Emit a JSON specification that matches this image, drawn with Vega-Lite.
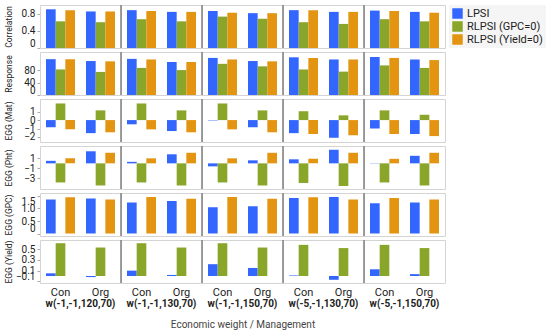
{
  "$schema": "https://vega.github.io/schema/vega-lite/v6.json",
  "padding": {"left": 4, "top": 3, "right": 2, "bottom": 2},
  "background": "white",
  "data": {"values": [
    {"m":"Correlation","w":"w(-1,-1,120,70)","g":"Con","s":"LPSI","v":0.90},
    {"m":"Correlation","w":"w(-1,-1,120,70)","g":"Con","s":"RLPSI (GPC=0)","v":0.62},
    {"m":"Correlation","w":"w(-1,-1,120,70)","g":"Con","s":"RLPSI (Yield=0)","v":0.88},
    {"m":"Correlation","w":"w(-1,-1,120,70)","g":"Org","s":"LPSI","v":0.85},
    {"m":"Correlation","w":"w(-1,-1,120,70)","g":"Org","s":"RLPSI (GPC=0)","v":0.60},
    {"m":"Correlation","w":"w(-1,-1,120,70)","g":"Org","s":"RLPSI (Yield=0)","v":0.85},
    {"m":"Correlation","w":"w(-1,-1,130,70)","g":"Con","s":"LPSI","v":0.88},
    {"m":"Correlation","w":"w(-1,-1,130,70)","g":"Con","s":"RLPSI (GPC=0)","v":0.67},
    {"m":"Correlation","w":"w(-1,-1,130,70)","g":"Con","s":"RLPSI (Yield=0)","v":0.86},
    {"m":"Correlation","w":"w(-1,-1,130,70)","g":"Org","s":"LPSI","v":0.84},
    {"m":"Correlation","w":"w(-1,-1,130,70)","g":"Org","s":"RLPSI (GPC=0)","v":0.62},
    {"m":"Correlation","w":"w(-1,-1,130,70)","g":"Org","s":"RLPSI (Yield=0)","v":0.84},
    {"m":"Correlation","w":"w(-1,-1,150,70)","g":"Con","s":"LPSI","v":0.86},
    {"m":"Correlation","w":"w(-1,-1,150,70)","g":"Con","s":"RLPSI (GPC=0)","v":0.73},
    {"m":"Correlation","w":"w(-1,-1,150,70)","g":"Con","s":"RLPSI (Yield=0)","v":0.82},
    {"m":"Correlation","w":"w(-1,-1,150,70)","g":"Org","s":"LPSI","v":0.81},
    {"m":"Correlation","w":"w(-1,-1,150,70)","g":"Org","s":"RLPSI (GPC=0)","v":0.68},
    {"m":"Correlation","w":"w(-1,-1,150,70)","g":"Org","s":"RLPSI (Yield=0)","v":0.81},
    {"m":"Correlation","w":"w(-5,-1,130,70)","g":"Con","s":"LPSI","v":0.88},
    {"m":"Correlation","w":"w(-5,-1,130,70)","g":"Con","s":"RLPSI (GPC=0)","v":0.60},
    {"m":"Correlation","w":"w(-5,-1,130,70)","g":"Con","s":"RLPSI (Yield=0)","v":0.88},
    {"m":"Correlation","w":"w(-5,-1,130,70)","g":"Org","s":"LPSI","v":0.84},
    {"m":"Correlation","w":"w(-5,-1,130,70)","g":"Org","s":"RLPSI (GPC=0)","v":0.56},
    {"m":"Correlation","w":"w(-5,-1,130,70)","g":"Org","s":"RLPSI (Yield=0)","v":0.84},
    {"m":"Correlation","w":"w(-5,-1,150,70)","g":"Con","s":"LPSI","v":0.87},
    {"m":"Correlation","w":"w(-5,-1,150,70)","g":"Con","s":"RLPSI (GPC=0)","v":0.67},
    {"m":"Correlation","w":"w(-5,-1,150,70)","g":"Con","s":"RLPSI (Yield=0)","v":0.86},
    {"m":"Correlation","w":"w(-5,-1,150,70)","g":"Org","s":"LPSI","v":0.84},
    {"m":"Correlation","w":"w(-5,-1,150,70)","g":"Org","s":"RLPSI (GPC=0)","v":0.62},
    {"m":"Correlation","w":"w(-5,-1,150,70)","g":"Org","s":"RLPSI (Yield=0)","v":0.82},

    {"m":"Response","w":"w(-1,-1,120,70)","g":"Con","s":"LPSI","v":115},
    {"m":"Response","w":"w(-1,-1,120,70)","g":"Con","s":"RLPSI (GPC=0)","v":82},
    {"m":"Response","w":"w(-1,-1,120,70)","g":"Con","s":"RLPSI (Yield=0)","v":115},
    {"m":"Response","w":"w(-1,-1,120,70)","g":"Org","s":"LPSI","v":109},
    {"m":"Response","w":"w(-1,-1,120,70)","g":"Org","s":"RLPSI (GPC=0)","v":74},
    {"m":"Response","w":"w(-1,-1,120,70)","g":"Org","s":"RLPSI (Yield=0)","v":108},
    {"m":"Response","w":"w(-1,-1,130,70)","g":"Con","s":"LPSI","v":116},
    {"m":"Response","w":"w(-1,-1,130,70)","g":"Con","s":"RLPSI (GPC=0)","v":87},
    {"m":"Response","w":"w(-1,-1,130,70)","g":"Con","s":"RLPSI (Yield=0)","v":114},
    {"m":"Response","w":"w(-1,-1,130,70)","g":"Org","s":"LPSI","v":106},
    {"m":"Response","w":"w(-1,-1,130,70)","g":"Org","s":"RLPSI (GPC=0)","v":80},
    {"m":"Response","w":"w(-1,-1,130,70)","g":"Org","s":"RLPSI (Yield=0)","v":106},
    {"m":"Response","w":"w(-1,-1,150,70)","g":"Con","s":"LPSI","v":119},
    {"m":"Response","w":"w(-1,-1,150,70)","g":"Con","s":"RLPSI (GPC=0)","v":100},
    {"m":"Response","w":"w(-1,-1,150,70)","g":"Con","s":"RLPSI (Yield=0)","v":114},
    {"m":"Response","w":"w(-1,-1,150,70)","g":"Org","s":"LPSI","v":109},
    {"m":"Response","w":"w(-1,-1,150,70)","g":"Org","s":"RLPSI (GPC=0)","v":92},
    {"m":"Response","w":"w(-1,-1,150,70)","g":"Org","s":"RLPSI (Yield=0)","v":108},
    {"m":"Response","w":"w(-5,-1,130,70)","g":"Con","s":"LPSI","v":121},
    {"m":"Response","w":"w(-5,-1,130,70)","g":"Con","s":"RLPSI (GPC=0)","v":82},
    {"m":"Response","w":"w(-5,-1,130,70)","g":"Con","s":"RLPSI (Yield=0)","v":119},
    {"m":"Response","w":"w(-5,-1,130,70)","g":"Org","s":"LPSI","v":114},
    {"m":"Response","w":"w(-5,-1,130,70)","g":"Org","s":"RLPSI (GPC=0)","v":75},
    {"m":"Response","w":"w(-5,-1,130,70)","g":"Org","s":"RLPSI (Yield=0)","v":114},
    {"m":"Response","w":"w(-5,-1,150,70)","g":"Con","s":"LPSI","v":122},
    {"m":"Response","w":"w(-5,-1,150,70)","g":"Con","s":"RLPSI (GPC=0)","v":95},
    {"m":"Response","w":"w(-5,-1,150,70)","g":"Con","s":"RLPSI (Yield=0)","v":119},
    {"m":"Response","w":"w(-5,-1,150,70)","g":"Org","s":"LPSI","v":114},
    {"m":"Response","w":"w(-5,-1,150,70)","g":"Org","s":"RLPSI (GPC=0)","v":87},
    {"m":"Response","w":"w(-5,-1,150,70)","g":"Org","s":"RLPSI (Yield=0)","v":112},

    {"m":"EGG (Mat)","w":"w(-1,-1,120,70)","g":"Con","s":"LPSI","v":-0.85},
    {"m":"EGG (Mat)","w":"w(-1,-1,120,70)","g":"Con","s":"RLPSI (GPC=0)","v":1.97},
    {"m":"EGG (Mat)","w":"w(-1,-1,120,70)","g":"Con","s":"RLPSI (Yield=0)","v":-1.1},
    {"m":"EGG (Mat)","w":"w(-1,-1,120,70)","g":"Org","s":"LPSI","v":-1.55},
    {"m":"EGG (Mat)","w":"w(-1,-1,120,70)","g":"Org","s":"RLPSI (GPC=0)","v":1.15},
    {"m":"EGG (Mat)","w":"w(-1,-1,120,70)","g":"Org","s":"RLPSI (Yield=0)","v":-1.45},
    {"m":"EGG (Mat)","w":"w(-1,-1,130,70)","g":"Con","s":"LPSI","v":-0.5},
    {"m":"EGG (Mat)","w":"w(-1,-1,130,70)","g":"Con","s":"RLPSI (GPC=0)","v":1.97},
    {"m":"EGG (Mat)","w":"w(-1,-1,130,70)","g":"Con","s":"RLPSI (Yield=0)","v":-1.1},
    {"m":"EGG (Mat)","w":"w(-1,-1,130,70)","g":"Org","s":"LPSI","v":-1.3},
    {"m":"EGG (Mat)","w":"w(-1,-1,130,70)","g":"Org","s":"RLPSI (GPC=0)","v":1.15},
    {"m":"EGG (Mat)","w":"w(-1,-1,130,70)","g":"Org","s":"RLPSI (Yield=0)","v":-1.45},
    {"m":"EGG (Mat)","w":"w(-1,-1,150,70)","g":"Con","s":"LPSI","v":-0.05},
    {"m":"EGG (Mat)","w":"w(-1,-1,150,70)","g":"Con","s":"RLPSI (GPC=0)","v":1.97},
    {"m":"EGG (Mat)","w":"w(-1,-1,150,70)","g":"Con","s":"RLPSI (Yield=0)","v":-1.1},
    {"m":"EGG (Mat)","w":"w(-1,-1,150,70)","g":"Org","s":"LPSI","v":-0.85},
    {"m":"EGG (Mat)","w":"w(-1,-1,150,70)","g":"Org","s":"RLPSI (GPC=0)","v":1.15},
    {"m":"EGG (Mat)","w":"w(-1,-1,150,70)","g":"Org","s":"RLPSI (Yield=0)","v":-1.45},
    {"m":"EGG (Mat)","w":"w(-5,-1,130,70)","g":"Con","s":"LPSI","v":-1.55},
    {"m":"EGG (Mat)","w":"w(-5,-1,130,70)","g":"Con","s":"RLPSI (GPC=0)","v":1.05},
    {"m":"EGG (Mat)","w":"w(-5,-1,130,70)","g":"Con","s":"RLPSI (Yield=0)","v":-1.65},
    {"m":"EGG (Mat)","w":"w(-5,-1,130,70)","g":"Org","s":"LPSI","v":-2.1},
    {"m":"EGG (Mat)","w":"w(-5,-1,130,70)","g":"Org","s":"RLPSI (GPC=0)","v":0.56},
    {"m":"EGG (Mat)","w":"w(-5,-1,130,70)","g":"Org","s":"RLPSI (Yield=0)","v":-1.8},
    {"m":"EGG (Mat)","w":"w(-5,-1,150,70)","g":"Con","s":"LPSI","v":-1.0},
    {"m":"EGG (Mat)","w":"w(-5,-1,150,70)","g":"Con","s":"RLPSI (GPC=0)","v":1.15},
    {"m":"EGG (Mat)","w":"w(-5,-1,150,70)","g":"Con","s":"RLPSI (Yield=0)","v":-1.65},
    {"m":"EGG (Mat)","w":"w(-5,-1,150,70)","g":"Org","s":"LPSI","v":-1.65},
    {"m":"EGG (Mat)","w":"w(-5,-1,150,70)","g":"Org","s":"RLPSI (GPC=0)","v":0.63},
    {"m":"EGG (Mat)","w":"w(-5,-1,150,70)","g":"Org","s":"RLPSI (Yield=0)","v":-1.9},

    {"m":"EGG (Pht)","w":"w(-1,-1,120,70)","g":"Con","s":"LPSI","v":0.5},
    {"m":"EGG (Pht)","w":"w(-1,-1,120,70)","g":"Con","s":"RLPSI (GPC=0)","v":-3.8},
    {"m":"EGG (Pht)","w":"w(-1,-1,120,70)","g":"Con","s":"RLPSI (Yield=0)","v":1.0},
    {"m":"EGG (Pht)","w":"w(-1,-1,120,70)","g":"Org","s":"LPSI","v":2.4},
    {"m":"EGG (Pht)","w":"w(-1,-1,120,70)","g":"Org","s":"RLPSI (GPC=0)","v":-4.4},
    {"m":"EGG (Pht)","w":"w(-1,-1,120,70)","g":"Org","s":"RLPSI (Yield=0)","v":2.1},
    {"m":"EGG (Pht)","w":"w(-1,-1,130,70)","g":"Con","s":"LPSI","v":0.3},
    {"m":"EGG (Pht)","w":"w(-1,-1,130,70)","g":"Con","s":"RLPSI (GPC=0)","v":-3.8},
    {"m":"EGG (Pht)","w":"w(-1,-1,130,70)","g":"Con","s":"RLPSI (Yield=0)","v":1.0},
    {"m":"EGG (Pht)","w":"w(-1,-1,130,70)","g":"Org","s":"LPSI","v":1.8},
    {"m":"EGG (Pht)","w":"w(-1,-1,130,70)","g":"Org","s":"RLPSI (GPC=0)","v":-4.4},
    {"m":"EGG (Pht)","w":"w(-1,-1,130,70)","g":"Org","s":"RLPSI (Yield=0)","v":2.1},
    {"m":"EGG (Pht)","w":"w(-1,-1,150,70)","g":"Con","s":"LPSI","v":-0.6},
    {"m":"EGG (Pht)","w":"w(-1,-1,150,70)","g":"Con","s":"RLPSI (GPC=0)","v":-3.8},
    {"m":"EGG (Pht)","w":"w(-1,-1,150,70)","g":"Con","s":"RLPSI (Yield=0)","v":1.0},
    {"m":"EGG (Pht)","w":"w(-1,-1,150,70)","g":"Org","s":"LPSI","v":0.6},
    {"m":"EGG (Pht)","w":"w(-1,-1,150,70)","g":"Org","s":"RLPSI (GPC=0)","v":-4.4},
    {"m":"EGG (Pht)","w":"w(-1,-1,150,70)","g":"Org","s":"RLPSI (Yield=0)","v":2.1},
    {"m":"EGG (Pht)","w":"w(-5,-1,130,70)","g":"Con","s":"LPSI","v":0.8},
    {"m":"EGG (Pht)","w":"w(-5,-1,130,70)","g":"Con","s":"RLPSI (GPC=0)","v":-3.9},
    {"m":"EGG (Pht)","w":"w(-5,-1,130,70)","g":"Con","s":"RLPSI (Yield=0)","v":0.9},
    {"m":"EGG (Pht)","w":"w(-5,-1,130,70)","g":"Org","s":"LPSI","v":2.7},
    {"m":"EGG (Pht)","w":"w(-5,-1,130,70)","g":"Org","s":"RLPSI (GPC=0)","v":-4.5},
    {"m":"EGG (Pht)","w":"w(-5,-1,130,70)","g":"Org","s":"RLPSI (Yield=0)","v":2.1},
    {"m":"EGG (Pht)","w":"w(-5,-1,150,70)","g":"Con","s":"LPSI","v":0.05},
    {"m":"EGG (Pht)","w":"w(-5,-1,150,70)","g":"Con","s":"RLPSI (GPC=0)","v":-3.8},
    {"m":"EGG (Pht)","w":"w(-5,-1,150,70)","g":"Con","s":"RLPSI (Yield=0)","v":0.9},
    {"m":"EGG (Pht)","w":"w(-5,-1,150,70)","g":"Org","s":"LPSI","v":1.5},
    {"m":"EGG (Pht)","w":"w(-5,-1,150,70)","g":"Org","s":"RLPSI (GPC=0)","v":-4.4},
    {"m":"EGG (Pht)","w":"w(-5,-1,150,70)","g":"Org","s":"RLPSI (Yield=0)","v":2.1},

    {"m":"EGG (GPC)","w":"w(-1,-1,120,70)","g":"Con","s":"LPSI","v":1.36},
    {"m":"EGG (GPC)","w":"w(-1,-1,120,70)","g":"Con","s":"RLPSI (GPC=0)","v":0},
    {"m":"EGG (GPC)","w":"w(-1,-1,120,70)","g":"Con","s":"RLPSI (Yield=0)","v":1.45},
    {"m":"EGG (GPC)","w":"w(-1,-1,120,70)","g":"Org","s":"LPSI","v":1.40},
    {"m":"EGG (GPC)","w":"w(-1,-1,120,70)","g":"Org","s":"RLPSI (GPC=0)","v":0},
    {"m":"EGG (GPC)","w":"w(-1,-1,120,70)","g":"Org","s":"RLPSI (Yield=0)","v":1.36},
    {"m":"EGG (GPC)","w":"w(-1,-1,130,70)","g":"Con","s":"LPSI","v":1.24},
    {"m":"EGG (GPC)","w":"w(-1,-1,130,70)","g":"Con","s":"RLPSI (GPC=0)","v":0},
    {"m":"EGG (GPC)","w":"w(-1,-1,130,70)","g":"Con","s":"RLPSI (Yield=0)","v":1.46},
    {"m":"EGG (GPC)","w":"w(-1,-1,130,70)","g":"Org","s":"LPSI","v":1.30},
    {"m":"EGG (GPC)","w":"w(-1,-1,130,70)","g":"Org","s":"RLPSI (GPC=0)","v":0},
    {"m":"EGG (GPC)","w":"w(-1,-1,130,70)","g":"Org","s":"RLPSI (Yield=0)","v":1.39},
    {"m":"EGG (GPC)","w":"w(-1,-1,150,70)","g":"Con","s":"LPSI","v":1.05},
    {"m":"EGG (GPC)","w":"w(-1,-1,150,70)","g":"Con","s":"RLPSI (GPC=0)","v":0},
    {"m":"EGG (GPC)","w":"w(-1,-1,150,70)","g":"Con","s":"RLPSI (Yield=0)","v":1.46},
    {"m":"EGG (GPC)","w":"w(-1,-1,150,70)","g":"Org","s":"LPSI","v":1.09},
    {"m":"EGG (GPC)","w":"w(-1,-1,150,70)","g":"Org","s":"RLPSI (GPC=0)","v":0},
    {"m":"EGG (GPC)","w":"w(-1,-1,150,70)","g":"Org","s":"RLPSI (Yield=0)","v":1.39},
    {"m":"EGG (GPC)","w":"w(-5,-1,130,70)","g":"Con","s":"LPSI","v":1.42},
    {"m":"EGG (GPC)","w":"w(-5,-1,130,70)","g":"Con","s":"RLPSI (GPC=0)","v":0},
    {"m":"EGG (GPC)","w":"w(-5,-1,130,70)","g":"Con","s":"RLPSI (Yield=0)","v":1.45},
    {"m":"EGG (GPC)","w":"w(-5,-1,130,70)","g":"Org","s":"LPSI","v":1.46},
    {"m":"EGG (GPC)","w":"w(-5,-1,130,70)","g":"Org","s":"RLPSI (GPC=0)","v":0},
    {"m":"EGG (GPC)","w":"w(-5,-1,130,70)","g":"Org","s":"RLPSI (Yield=0)","v":1.36},
    {"m":"EGG (GPC)","w":"w(-5,-1,150,70)","g":"Con","s":"LPSI","v":1.21},
    {"m":"EGG (GPC)","w":"w(-5,-1,150,70)","g":"Con","s":"RLPSI (GPC=0)","v":0},
    {"m":"EGG (GPC)","w":"w(-5,-1,150,70)","g":"Con","s":"RLPSI (Yield=0)","v":1.42},
    {"m":"EGG (GPC)","w":"w(-5,-1,150,70)","g":"Org","s":"LPSI","v":1.24},
    {"m":"EGG (GPC)","w":"w(-5,-1,150,70)","g":"Org","s":"RLPSI (GPC=0)","v":0},
    {"m":"EGG (GPC)","w":"w(-5,-1,150,70)","g":"Org","s":"RLPSI (Yield=0)","v":1.36},

    {"m":"EGG (Yield)","w":"w(-1,-1,120,70)","g":"Con","s":"LPSI","v":0.05},
    {"m":"EGG (Yield)","w":"w(-1,-1,120,70)","g":"Con","s":"RLPSI (GPC=0)","v":0.61},
    {"m":"EGG (Yield)","w":"w(-1,-1,120,70)","g":"Con","s":"RLPSI (Yield=0)","v":0},
    {"m":"EGG (Yield)","w":"w(-1,-1,120,70)","g":"Org","s":"LPSI","v":-0.02},
    {"m":"EGG (Yield)","w":"w(-1,-1,120,70)","g":"Org","s":"RLPSI (GPC=0)","v":0.53},
    {"m":"EGG (Yield)","w":"w(-1,-1,120,70)","g":"Org","s":"RLPSI (Yield=0)","v":0},
    {"m":"EGG (Yield)","w":"w(-1,-1,130,70)","g":"Con","s":"LPSI","v":0.10},
    {"m":"EGG (Yield)","w":"w(-1,-1,130,70)","g":"Con","s":"RLPSI (GPC=0)","v":0.61},
    {"m":"EGG (Yield)","w":"w(-1,-1,130,70)","g":"Con","s":"RLPSI (Yield=0)","v":0},
    {"m":"EGG (Yield)","w":"w(-1,-1,130,70)","g":"Org","s":"LPSI","v":0.02},
    {"m":"EGG (Yield)","w":"w(-1,-1,130,70)","g":"Org","s":"RLPSI (GPC=0)","v":0.53},
    {"m":"EGG (Yield)","w":"w(-1,-1,130,70)","g":"Org","s":"RLPSI (Yield=0)","v":0},
    {"m":"EGG (Yield)","w":"w(-1,-1,150,70)","g":"Con","s":"LPSI","v":0.22},
    {"m":"EGG (Yield)","w":"w(-1,-1,150,70)","g":"Con","s":"RLPSI (GPC=0)","v":0.61},
    {"m":"EGG (Yield)","w":"w(-1,-1,150,70)","g":"Con","s":"RLPSI (Yield=0)","v":0},
    {"m":"EGG (Yield)","w":"w(-1,-1,150,70)","g":"Org","s":"LPSI","v":0.15},
    {"m":"EGG (Yield)","w":"w(-1,-1,150,70)","g":"Org","s":"RLPSI (GPC=0)","v":0.53},
    {"m":"EGG (Yield)","w":"w(-1,-1,150,70)","g":"Org","s":"RLPSI (Yield=0)","v":0},
    {"m":"EGG (Yield)","w":"w(-5,-1,130,70)","g":"Con","s":"LPSI","v":0.01},
    {"m":"EGG (Yield)","w":"w(-5,-1,130,70)","g":"Con","s":"RLPSI (GPC=0)","v":0.58},
    {"m":"EGG (Yield)","w":"w(-5,-1,130,70)","g":"Con","s":"RLPSI (Yield=0)","v":0},
    {"m":"EGG (Yield)","w":"w(-5,-1,130,70)","g":"Org","s":"LPSI","v":-0.07},
    {"m":"EGG (Yield)","w":"w(-5,-1,130,70)","g":"Org","s":"RLPSI (GPC=0)","v":0.52},
    {"m":"EGG (Yield)","w":"w(-5,-1,130,70)","g":"Org","s":"RLPSI (Yield=0)","v":0},
    {"m":"EGG (Yield)","w":"w(-5,-1,150,70)","g":"Con","s":"LPSI","v":0.125},
    {"m":"EGG (Yield)","w":"w(-5,-1,150,70)","g":"Con","s":"RLPSI (GPC=0)","v":0.58},
    {"m":"EGG (Yield)","w":"w(-5,-1,150,70)","g":"Con","s":"RLPSI (Yield=0)","v":0},
    {"m":"EGG (Yield)","w":"w(-5,-1,150,70)","g":"Org","s":"LPSI","v":0.035},
    {"m":"EGG (Yield)","w":"w(-5,-1,150,70)","g":"Org","s":"RLPSI (GPC=0)","v":0.52},
    {"m":"EGG (Yield)","w":"w(-5,-1,150,70)","g":"Org","s":"RLPSI (Yield=0)","v":0}
  ]},
  "spacing": 0,
  "resolve": {"scale": {"y": "independent", "x": "independent", "color": "shared"}},
  "vconcat": [
    {
      "transform": [{"filter": "datum.m === 'Correlation'"}],
      "facet": {"column": {"field": "w", "type": "nominal", "sort": ["w(-1,-1,120,70)","w(-1,-1,130,70)","w(-1,-1,150,70)","w(-5,-1,130,70)","w(-5,-1,150,70)"], "header": null}},
      "spacing": 0,
      "bounds": "flush",
      "spec": {
        "width": 81, "height": 43,
        "layer": [
          {"mark": {"type": "bar"},
           "encoding": {
             "x": {"field": "g", "type": "nominal", "scale": {"paddingInner": 0.275, "paddingOuter": 0.15}, "axis": null},
             "xOffset": {"field": "s", "type": "nominal", "sort": ["LPSI","RLPSI (GPC=0)","RLPSI (Yield=0)"], "scale": {"paddingInner": 0, "paddingOuter": 0}},
             "y": {"field": "v", "type": "quantitative", "scale": {"domain": [0, 1.0], "nice": false, "zero": false}, "axis": {"title": "Correlation", "values": [0, 0.4, 0.8], "labelExpr": "datum.value === 0 ? '0' : format(datum.value, '.1f')"}},
             "color": {"field": "s", "type": "nominal", "scale": {"domain": ["LPSI","RLPSI (GPC=0)","RLPSI (Yield=0)"], "range": ["#3366FF","#8AA62A","#E39511"]}}
           }},
          {"transform": [{"filter": "datum.s === 'LPSI' && datum.g === 'Con' && datum.w !== 'w(-1,-1,120,70)'"}],
           "mark": {"type": "rule", "color": "#808080", "strokeWidth": 1.5},
           "encoding": {"x": {"datum": "Con", "type": "nominal", "bandPosition": -0.2069}}}
        ]
      }
    },
    {
      "transform": [{"filter": "datum.m === 'Response'"}],
      "facet": {"column": {"field": "w", "type": "nominal", "sort": ["w(-1,-1,120,70)","w(-1,-1,130,70)","w(-1,-1,150,70)","w(-5,-1,130,70)","w(-5,-1,150,70)"], "header": null}},
      "spacing": 0,
      "bounds": "flush",
      "spec": {
        "width": 81, "height": 43,
        "layer": [
          {"mark": {"type": "bar"},
           "encoding": {
             "x": {"field": "g", "type": "nominal", "scale": {"paddingInner": 0.275, "paddingOuter": 0.15}, "axis": null},
             "xOffset": {"field": "s", "type": "nominal", "sort": ["LPSI","RLPSI (GPC=0)","RLPSI (Yield=0)"], "scale": {"paddingInner": 0, "paddingOuter": 0}},
             "y": {"field": "v", "type": "quantitative", "scale": {"domain": [0, 138], "nice": false, "zero": false}, "axis": {"title": "Response", "values": [0, 40, 80]}},
             "color": {"field": "s", "type": "nominal", "scale": {"domain": ["LPSI","RLPSI (GPC=0)","RLPSI (Yield=0)"], "range": ["#3366FF","#8AA62A","#E39511"]}}
           }},
          {"transform": [{"filter": "datum.s === 'LPSI' && datum.g === 'Con' && datum.w !== 'w(-1,-1,120,70)'"}],
           "mark": {"type": "rule", "color": "#808080", "strokeWidth": 1.5},
           "encoding": {"x": {"datum": "Con", "type": "nominal", "bandPosition": -0.2069}}}
        ]
      }
    },
    {
      "transform": [{"filter": "datum.m === 'EGG (Mat)'"}],
      "facet": {"column": {"field": "w", "type": "nominal", "sort": ["w(-1,-1,120,70)","w(-1,-1,130,70)","w(-1,-1,150,70)","w(-5,-1,130,70)","w(-5,-1,150,70)"], "header": null}},
      "spacing": 0,
      "bounds": "flush",
      "spec": {
        "width": 81, "height": 43,
        "layer": [
          {"mark": {"type": "bar"},
           "encoding": {
             "x": {"field": "g", "type": "nominal", "scale": {"paddingInner": 0.275, "paddingOuter": 0.15}, "axis": null},
             "xOffset": {"field": "s", "type": "nominal", "sort": ["LPSI","RLPSI (GPC=0)","RLPSI (Yield=0)"], "scale": {"paddingInner": 0, "paddingOuter": 0}},
             "y": {"field": "v", "type": "quantitative", "scale": {"domain": [-2.6, 2.5], "nice": false, "zero": false}, "axis": {"title": "EGG (Mat)", "values": [-2, -1, 0, 1]}},
             "color": {"field": "s", "type": "nominal", "scale": {"domain": ["LPSI","RLPSI (GPC=0)","RLPSI (Yield=0)"], "range": ["#3366FF","#8AA62A","#E39511"]}}
           }},
          {"transform": [{"filter": "datum.s === 'LPSI' && datum.g === 'Con' && datum.w !== 'w(-1,-1,120,70)'"}],
           "mark": {"type": "rule", "color": "#808080", "strokeWidth": 1.5},
           "encoding": {"x": {"datum": "Con", "type": "nominal", "bandPosition": -0.2069}}}
        ]
      }
    },
    {
      "transform": [{"filter": "datum.m === 'EGG (Pht)'"}],
      "facet": {"column": {"field": "w", "type": "nominal", "sort": ["w(-1,-1,120,70)","w(-1,-1,130,70)","w(-1,-1,150,70)","w(-5,-1,130,70)","w(-5,-1,150,70)"], "header": null}},
      "spacing": 0,
      "bounds": "flush",
      "spec": {
        "width": 81, "height": 43,
        "layer": [
          {"mark": {"type": "bar"},
           "encoding": {
             "x": {"field": "g", "type": "nominal", "scale": {"paddingInner": 0.275, "paddingOuter": 0.15}, "axis": null},
             "xOffset": {"field": "s", "type": "nominal", "sort": ["LPSI","RLPSI (GPC=0)","RLPSI (Yield=0)"], "scale": {"paddingInner": 0, "paddingOuter": 0}},
             "y": {"field": "v", "type": "quantitative", "scale": {"domain": [-5.1, 3.45], "nice": false, "zero": false}, "axis": {"title": "EGG (Pht)", "values": [-3, -1, 1]}},
             "color": {"field": "s", "type": "nominal", "scale": {"domain": ["LPSI","RLPSI (GPC=0)","RLPSI (Yield=0)"], "range": ["#3366FF","#8AA62A","#E39511"]}}
           }},
          {"transform": [{"filter": "datum.s === 'LPSI' && datum.g === 'Con' && datum.w !== 'w(-1,-1,120,70)'"}],
           "mark": {"type": "rule", "color": "#808080", "strokeWidth": 1.5},
           "encoding": {"x": {"datum": "Con", "type": "nominal", "bandPosition": -0.2069}}}
        ]
      }
    },
    {
      "transform": [{"filter": "datum.m === 'EGG (GPC)'"}],
      "facet": {"column": {"field": "w", "type": "nominal", "sort": ["w(-1,-1,120,70)","w(-1,-1,130,70)","w(-1,-1,150,70)","w(-5,-1,130,70)","w(-5,-1,150,70)"], "header": null}},
      "spacing": 0,
      "bounds": "flush",
      "spec": {
        "width": 81, "height": 43,
        "layer": [
          {"mark": {"type": "bar"},
           "encoding": {
             "x": {"field": "g", "type": "nominal", "scale": {"paddingInner": 0.275, "paddingOuter": 0.15}, "axis": null},
             "xOffset": {"field": "s", "type": "nominal", "sort": ["LPSI","RLPSI (GPC=0)","RLPSI (Yield=0)"], "scale": {"paddingInner": 0, "paddingOuter": 0}},
             "y": {"field": "v", "type": "quantitative", "scale": {"domain": [-0.1, 1.62], "nice": false, "zero": false}, "axis": {"title": "EGG (GPC)", "values": [0, 0.5, 1, 1.5], "labelExpr": "datum.value === 0 ? '0' : format(datum.value, '.1f')"}},
             "color": {"field": "s", "type": "nominal", "scale": {"domain": ["LPSI","RLPSI (GPC=0)","RLPSI (Yield=0)"], "range": ["#3366FF","#8AA62A","#E39511"]}}
           }},
          {"transform": [{"filter": "datum.s === 'LPSI' && datum.g === 'Con' && datum.w !== 'w(-1,-1,120,70)'"}],
           "mark": {"type": "rule", "color": "#808080", "strokeWidth": 1.5},
           "encoding": {"x": {"datum": "Con", "type": "nominal", "bandPosition": -0.2069}}}
        ]
      }
    },
    {
      "transform": [{"filter": "datum.m === 'EGG (Yield)'"}],
      "facet": {"column": {"field": "w", "type": "nominal", "sort": ["w(-1,-1,120,70)","w(-1,-1,130,70)","w(-1,-1,150,70)","w(-5,-1,130,70)","w(-5,-1,150,70)"],
        "header": {"title": "Economic weight / Management", "labelOrient": "bottom", "titleOrient": "bottom", "labelFontWeight": "bold", "labelFontSize": 10, "labelPadding": 2, "labelColor": "#222", "titleFontSize": 10, "titleFontWeight": "normal", "titleColor": "#444", "titlePadding": 1}}},
      "spacing": 0,
      "bounds": "flush",
      "spec": {
        "width": 81, "height": 43,
        "layer": [
          {"mark": {"type": "bar"},
           "encoding": {
             "x": {"field": "g", "type": "nominal", "scale": {"paddingInner": 0.275, "paddingOuter": 0.15}, "axis": {"title": null, "labelAngle": 0, "labelFontSize": 11, "ticks": false, "labelPadding": 3, "domain": false}},
             "xOffset": {"field": "s", "type": "nominal", "sort": ["LPSI","RLPSI (GPC=0)","RLPSI (Yield=0)"], "scale": {"paddingInner": 0, "paddingOuter": 0}},
             "y": {"field": "v", "type": "quantitative", "scale": {"domain": [-0.13, 0.67], "nice": false, "zero": false}, "axis": {"title": "EGG (Yield)", "values": [-0.1, 0.1, 0.3, 0.5], "format": ".1f"}},
             "color": {"field": "s", "type": "nominal", "scale": {"domain": ["LPSI","RLPSI (GPC=0)","RLPSI (Yield=0)"], "range": ["#3366FF","#8AA62A","#E39511"]}}
           }},
          {"transform": [{"filter": "datum.s === 'LPSI' && datum.g === 'Con' && datum.w !== 'w(-1,-1,120,70)'"}],
           "mark": {"type": "rule", "color": "#808080", "strokeWidth": 1.5},
           "encoding": {"x": {"datum": "Con", "type": "nominal", "bandPosition": -0.2069}}}
        ]
      }
    }
  ],
  "config": {
    "font": "Roboto",
    "view": {"stroke": "#d4d4d4", "strokeWidth": 1},
    "axis": {"grid": false, "domain": false, "labelFontSize": 10, "labelColor": "#222", "titleFontSize": 8.5, "titleFontWeight": "normal", "titleColor": "#222", "tickColor": "#aaaaaa", "tickSize": 3, "labelOverlap": false},
    "axisY": {"titleX": -27, "titleBaseline": "bottom", "labelPadding": 2, "labelFlush": 4},
    "legend": {"title": null, "orient": "right", "symbolType": "square", "symbolSize": 110, "labelFontSize": 11, "labelColor": "#222", "fillColor": "#f5f5f5", "padding": 3, "offset": 3, "rowPadding": 1, "symbolStrokeWidth": 0}
  }
}
